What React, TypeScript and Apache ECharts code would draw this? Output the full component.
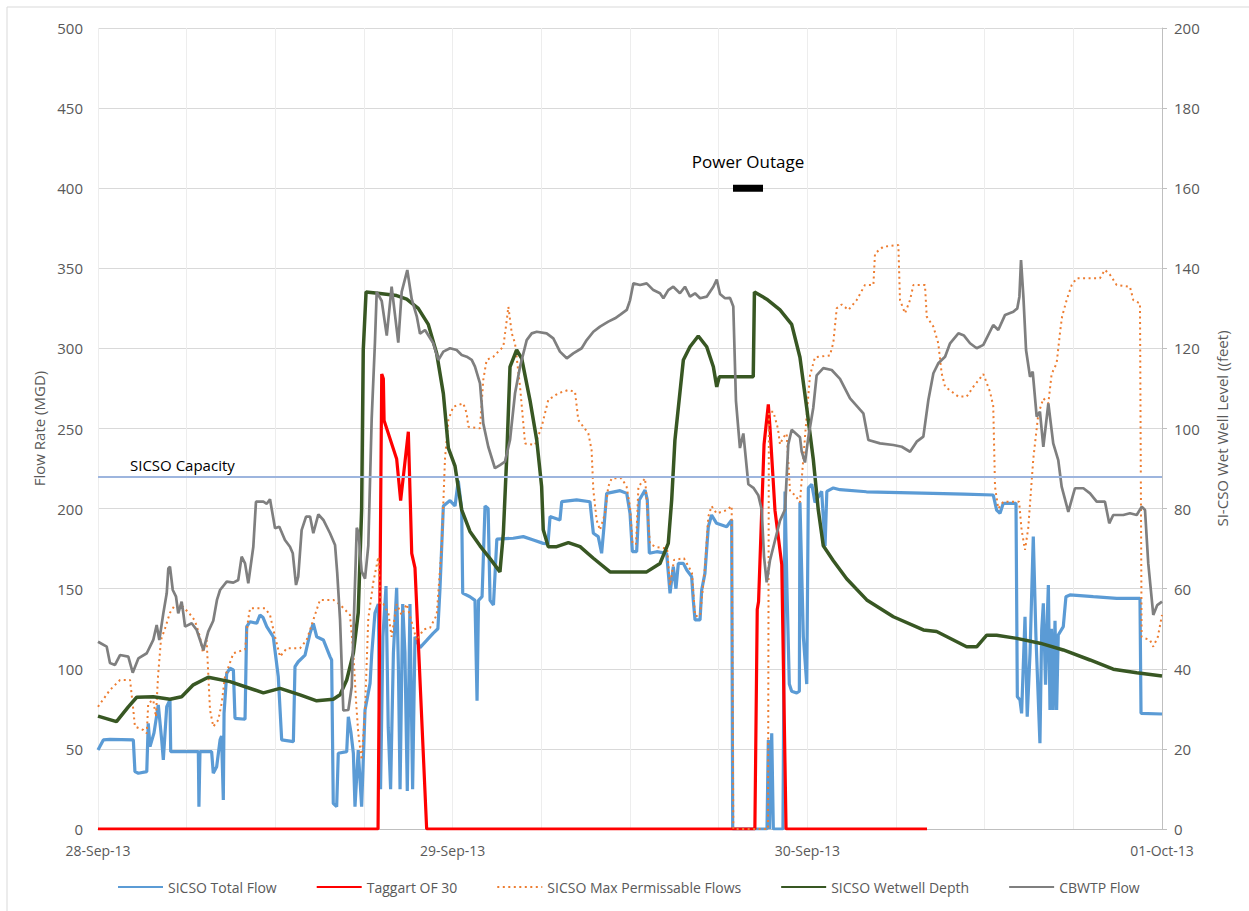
import React, { useEffect, useRef } from "react";
import * as echarts from "echarts";

// x values are hours after 28-Sep-13 00:00
const dayLabels = ["28-Sep-13", "29-Sep-13", "30-Sep-13", "01-Oct-13"];
const capacity = 220;
const outageStart = 42.97;
const outageEnd = 45.0;
const outageLevel = 400;

const blueH = [0, 0.36, 0.81, 2.39, 2.5, 2.73, 3.3, 3.4, 3.52, 3.79, 4.08, 4.31, 4.42, 4.65, 4.87, 4.92, 6.79, 6.83, 6.9, 7.69, 7.8, 8.03, 8.26, 8.36, 8.48, 8.53, 8.71, 8.93, 9.16, 9.27, 9.95, 10.06, 10.29, 10.74, 10.96, 11.17, 11.42, 11.86, 12.2, 12.43, 13.22, 13.33, 13.55, 14.01, 14.35, 14.57, 14.8, 15.25, 15.7, 15.81, 15.92, 16.15, 16.26, 16.83, 16.94, 17.12, 17.28, 17.39, 17.61, 17.84, 18.07, 18.41, 18.52, 18.74, 18.97, 19.12, 19.28, 19.49, 19.64, 19.8, 19.99, 20.21, 20.33, 20.44, 20.62, 20.77, 20.93, 21.11, 21.29, 21.45, 21.79, 22.24, 22.69, 23.0, 23.14, 23.37, 23.82, 24.16, 24.38, 24.61, 24.68, 25.17, 25.51, 25.65, 25.75, 25.99, 26.19, 26.4, 26.53, 26.76, 26.99, 28.1, 28.78, 29.46, 30.13, 30.45, 30.59, 31.26, 31.38, 32.39, 33.29, 33.52, 33.85, 34.08, 34.24, 34.42, 35.33, 35.78, 36.0, 36.16, 36.45, 36.63, 37.02, 37.17, 37.31, 37.81, 38.48, 38.71, 38.93, 39.11, 39.27, 39.61, 39.84, 40.17, 40.28, 40.4, 40.74, 40.85, 41.07, 41.3, 41.52, 41.86, 42.54, 42.88, 42.95, 45.27, 45.36, 45.44, 45.59, 45.7, 46.35, 46.49, 46.62, 46.78, 46.94, 47.28, 47.46, 47.5, 47.73, 47.96, 48.07, 48.3, 48.52, 48.97, 49.2, 49.32, 49.76, 50.21, 52.0, 54.27, 56.5, 58.6, 60.58, 60.81, 61.04, 61.26, 62.12, 62.21, 62.39, 62.5, 62.73, 62.88, 63.07, 63.29, 63.47, 63.74, 63.86, 63.97, 64.12, 64.24, 64.31, 64.42, 64.52, 64.64, 64.76, 64.87, 64.98, 65.32, 65.5, 65.77, 67.35, 68.93, 70.51, 70.58, 72];
const blueV = [49.3, 55.6, 56, 55.6, 35.8, 34.8, 35.8, 66, 51.4, 60, 77.4, 55.6, 43.1, 76.3, 80.5, 48.3, 48.3, 13.9, 48.3, 48.3, 34.8, 38.9, 55.6, 58, 18.1, 72.2, 97.2, 100.3, 99.3, 69.1, 68.5, 126.3, 129.4, 128.4, 133.6, 132, 126.3, 120, 95, 55.6, 54.5, 101.3, 104.4, 108.6, 122.2, 128.4, 120, 118, 107.6, 105.5, 16, 13.9, 47.3, 48.3, 70.1, 60, 47.3, 13.9, 49.3, 13.9, 74.3, 90.9, 108.7, 134.8, 140.4, 24.8, 120, 151.7, 63.4, 24.8, 110, 150.6, 100, 24.8, 140.4, 110, 23.7, 140.4, 24.8, 120, 113.2, 117.7, 122.3, 125, 149.5, 201.6, 205, 201.6, 217.5, 199.4, 147.2, 145, 142.7, 80, 142.7, 145, 201.6, 200, 142.7, 139.8, 181, 181.5, 182.5, 180.4, 178.3, 178, 195, 192.9, 204.3, 205.4, 204.3, 184.6, 182.5, 172.1, 188.7, 209.5, 211.2, 209.5, 197.1, 173.1, 173.1, 205.4, 211.6, 205.4, 172.1, 173.1, 172.1, 147.1, 163.7, 150, 165.8, 165.8, 161.7, 157.5, 143, 130.5, 130.5, 149.2, 159.6, 188.7, 196, 190.8, 188.7, 192.9, 0, 0, 55.6, 0, 59.7, 0, 0, 210.7, 150, 90.5, 86, 84.9, 86, 203.9, 120.1, 90.5, 212.9, 215.2, 203.9, 210.7, 176.7, 210.7, 212.9, 211.8, 210.5, 210, 209.5, 209, 208.5, 199.1, 197.1, 203.3, 203.3, 82.6, 80.5, 72.2, 132.5, 70.1, 110, 182.5, 120, 53.5, 124.2, 140.9, 90, 132.5, 152.3, 74.3, 125, 74.3, 130, 74.3, 121.1, 126.3, 145, 146.1, 145, 144, 144, 72.2, 71.8];

const redH = [0, 18.95, 19.2, 19.31, 19.36, 20.21, 20.48, 21.0, 21.23, 21.45, 22.24, 44.45, 44.61, 44.7, 45.07, 45.36, 45.47, 45.81, 46.27, 46.56, 56.1];
const redV = [0, 0, 284, 281, 255, 231, 205, 248, 172, 163, 0, 0, 137, 142, 240, 265, 251, 199, 165, 0, 0];

const orangeH = [0, 0.81, 1.49, 2.17, 2.39, 2.5, 3.07, 3.3, 3.4, 3.74, 3.92, 4.06, 4.26, 4.53, 4.87, 5.21, 5.75, 6.23, 6.56, 6.9, 7.1, 7.35, 7.58, 7.8, 8.14, 8.37, 8.59, 9.16, 9.95, 10.15, 10.29, 11.3, 11.64, 11.98, 12.32, 12.77, 13.67, 14.12, 14.57, 15.02, 15.92, 16.26, 16.6, 17.05, 17.28, 17.46, 17.61, 17.84, 18.07, 18.29, 18.63, 18.97, 19.12, 19.31, 19.65, 19.87, 20.21, 20.55, 20.89, 21.23, 21.57, 22.02, 22.47, 22.92, 23.26, 23.48, 23.71, 24.04, 24.72, 24.95, 25.06, 25.85, 26.07, 26.3, 26.75, 27.09, 27.43, 27.66, 27.77, 28.0, 28.22, 28.56, 28.9, 29.57, 30.02, 30.47, 31.15, 31.82, 32.28, 32.5, 32.84, 33.18, 33.4, 33.52, 33.74, 33.97, 34.31, 34.53, 34.76, 35.43, 35.77, 36.0, 36.17, 36.41, 36.57, 37.02, 37.13, 37.35, 37.77, 38.51, 38.71, 38.98, 39.65, 40.19, 40.4, 40.74, 41.07, 41.3, 41.52, 41.86, 42.54, 42.88, 42.99, 44.34, 45.34, 45.4, 45.7, 46.01, 46.15, 46.38, 46.6, 46.83, 47.17, 47.5, 47.84, 48.18, 48.52, 49.53, 49.76, 49.99, 50.33, 50.78, 51.34, 51.9, 52.47, 52.58, 53.14, 54.16, 54.27, 54.61, 54.95, 55.18, 55.96, 56.08, 56.53, 56.86, 57.09, 57.32, 58.22, 58.78, 59.24, 59.91, 60.36, 60.58, 60.7, 60.92, 61.26, 62.33, 62.5, 62.73, 62.95, 63.29, 63.63, 63.97, 64.31, 64.53, 64.87, 65.1, 65.24, 65.55, 65.89, 66.23, 67.8, 68.14, 68.48, 68.93, 69.83, 70.06, 70.51, 70.62, 70.85, 71.18, 71.41, 71.72, 72];
const orangeV = [76.3, 86.8, 93, 93, 74.3, 63.9, 61.8, 59.7, 78.5, 80.5, 70, 95, 118, 125, 135, 139.8, 138.8, 134, 130, 120, 110, 118, 74.3, 63.9, 68, 78.5, 95, 109.7, 112.1, 130, 137.8, 137.8, 133.6, 120, 107.6, 112.8, 112.8, 118, 130.5, 143, 143, 140.9, 138, 133.6, 110, 80, 60, 43, 74.7, 131.3, 154, 169.9, 140, 140.4, 134.8, 120, 140.4, 133.6, 140.4, 129.1, 117.7, 124.5, 125.6, 133.6, 176.7, 231, 255.3, 263.6, 265.7, 259.5, 251.1, 250.1, 280.3, 292.8, 294.8, 298, 301.1, 317.7, 326, 309.4, 303.2, 276.1, 240.7, 239.7, 251.1, 267.8, 272, 274, 273, 255.3, 251.1, 247, 236.6, 211.6, 192.9, 186.6, 197.1, 213.7, 218.9, 218.9, 213.7, 201.2, 178, 178, 213.7, 218.9, 205.4, 178, 176, 175, 152, 168, 169, 160, 133, 133, 163, 195, 201.6, 197, 199, 201.6, 0, 0, 0, 260.5, 260.5, 250, 240.1, 244.6, 246.9, 210.7, 208.4, 203.9, 244.6, 283.2, 294.5, 295.6, 303.6, 325.1, 327.4, 324, 330.2, 339.6, 339.6, 359.3, 363.5, 364.5, 330.2, 321.9, 330.2, 339.6, 339.6, 319.8, 313.6, 303.2, 284.5, 276.1, 269.9, 269.9, 276.1, 284, 273, 264, 213.7, 200, 204.3, 204.3, 186.6, 174.2, 188, 231, 259, 268.8, 265.7, 284, 290.7, 310, 320, 330.2, 339.6, 343.8, 343.8, 349, 346, 339.6, 338.5, 330.2, 328.1, 120, 119, 118, 113.8, 120, 133.6];

const greenH = [0, 1.25, 2.05, 2.62, 3.74, 4.87, 5.66, 6.45, 7.46, 8.93, 10.06, 11.19, 12.32, 13.67, 14.8, 15.92, 16.38, 16.83, 17.28, 17.61, 17.84, 17.95, 18.14, 19.08, 20.21, 20.89, 21.67, 22.35, 22.92, 23.37, 23.71, 24.16, 24.61, 25.17, 25.85, 26.53, 27.2, 27.43, 27.66, 27.88, 28.33, 28.67, 29.23, 29.69, 30.02, 30.13, 30.47, 31.04, 31.83, 32.62, 33.52, 34.65, 37.13, 38.03, 38.59, 38.82, 39.04, 39.61, 40.06, 40.62, 41.19, 41.64, 41.87, 42.04, 44.34, 44.42, 45.25, 46.15, 46.94, 47.5, 47.96, 48.4, 48.74, 49.08, 49.76, 50.66, 52.02, 53.82, 55.85, 56.75, 58.78, 59.46, 60.14, 60.81, 62.17, 63.74, 65.32, 67.13, 68.7, 70.29, 72];
const greenV = [28.2, 26.8, 30.5, 32.9, 33.0, 32.4, 33.0, 36.0, 37.9, 36.8, 35.4, 34.0, 35.1, 33.5, 32.0, 32.4, 33.5, 37.2, 43.9, 54, 79.7, 119.6, 134.1, 133.7, 133.2, 132.3, 130, 126, 118.7, 108.7, 95.1, 90.6, 79.7, 74.3, 70.7, 67.5, 64.2, 73.9, 93, 115.4, 119.6, 117.5, 107.1, 97.1, 85.5, 74.7, 70.5, 70.5, 71.5, 70.5, 67.6, 64.2, 64.2, 66.3, 71.3, 82.1, 97.1, 117.1, 120.4, 123.1, 120.4, 115.4, 110.4, 112.9, 112.9, 134.1, 132.3, 129.6, 126, 117.8, 105.1, 92.4, 79.7, 70.7, 67, 62.5, 57.2, 53, 49.7, 49.3, 45.5, 45.5, 48.4, 48.4, 47.6, 46.4, 44.7, 42.2, 39.9, 39, 38.2];

const grayH = [0, 0.59, 0.81, 1.15, 1.49, 2.05, 2.35, 2.73, 3.3, 3.74, 3.97, 4.15, 4.42, 4.65, 4.76, 4.87, 5.06, 5.28, 5.43, 5.66, 5.79, 5.89, 6.34, 6.68, 7.13, 7.46, 7.8, 8.05, 8.26, 8.71, 9.16, 9.49, 9.72, 9.95, 10.17, 10.51, 10.69, 11.19, 11.42, 11.64, 11.98, 12.27, 12.65, 12.99, 13.18, 13.4, 13.55, 13.78, 14.08, 14.35, 14.57, 14.91, 15.25, 15.7, 16.04, 16.19, 16.38, 16.6, 16.94, 17.17, 17.51, 17.63, 17.84, 18.07, 18.29, 18.52, 18.74, 18.86, 19.2, 19.54, 19.87, 20.32, 20.55, 20.93, 21.23, 21.57, 21.79, 22.13, 22.69, 23.03, 23.37, 23.82, 24.27, 24.61, 24.95, 25.29, 25.51, 25.85, 26.07, 26.41, 26.86, 27.2, 27.54, 27.88, 28.22, 28.56, 29.01, 29.35, 29.69, 30.36, 30.81, 31.26, 31.72, 32.16, 32.73, 33.07, 33.52, 33.97, 34.53, 34.99, 35.32, 35.78, 36.0, 36.23, 36.68, 37.13, 37.58, 38.03, 38.26, 38.59, 38.93, 39.38, 39.72, 40.06, 40.4, 40.74, 41.19, 41.64, 41.87, 42.09, 42.43, 42.77, 42.99, 43.17, 43.44, 43.67, 44.01, 44.35, 44.68, 44.91, 45.07, 45.25, 45.47, 46.15, 46.49, 46.71, 46.94, 47.5, 47.62, 47.84, 48.07, 48.4, 48.63, 49.08, 49.65, 50.21, 50.89, 51.79, 52.13, 52.92, 53.82, 54.39, 54.95, 55.4, 55.85, 56.19, 56.53, 56.86, 57.32, 57.66, 58.22, 58.6, 59.01, 59.46, 59.91, 60.58, 60.92, 61.38, 61.94, 62.21, 62.35, 62.46, 62.62, 62.8, 63.07, 63.25, 63.52, 63.74, 63.97, 64.31, 64.64, 64.98, 65.21, 65.66, 66.11, 66.68, 67.13, 67.58, 68.14, 68.43, 68.7, 69.38, 69.83, 70.29, 70.63, 70.85, 71.07, 71.41, 71.68, 72];
const grayV = [116.9, 113.8, 103.6, 102.4, 108.6, 107.6, 97.6, 106.5, 109.7, 118, 127.3, 118, 134.6, 147.1, 162.7, 163.7, 149.2, 145, 134.6, 141.9, 133.6, 126.3, 128.4, 124.2, 111.7, 123.2, 130, 143, 149.2, 154.4, 153.8, 155.4, 170, 165.8, 153.4, 176.2, 204.3, 204.3, 203, 205.8, 187.7, 188.7, 180.4, 176.2, 172.1, 152.3, 157.5, 186.6, 195, 195, 184.6, 196.4, 192.9, 184.6, 177.3, 159.6, 130.5, 74, 74.3, 88.8, 188, 185, 160.8, 156.3, 176.7, 256, 303.6, 335.3, 329.6, 308, 338.6, 303.6, 335.3, 348.9, 330.7, 320, 309.2, 311.5, 303.2, 292.8, 298, 300.1, 299, 295.9, 294.8, 292.8, 288.6, 278.2, 253.2, 238.6, 225.2, 227.2, 229.3, 242.8, 272, 288.6, 305.2, 309.4, 310.4, 309.4, 306.3, 298, 293.8, 296.9, 300.1, 305.2, 310.4, 313.6, 316.7, 318.8, 320.9, 324, 330, 340.6, 339.6, 340.6, 336.4, 334.4, 331.3, 336.4, 338.5, 334.4, 338.5, 332.3, 334.4, 331.3, 332.3, 338.5, 343, 334, 331.3, 331.5, 326.2, 267.3, 237.8, 246.9, 215.2, 213, 208.4, 199.4, 169.9, 154, 167.6, 192.5, 199.4, 240.1, 249.2, 244.6, 235.6, 228.8, 244.6, 262.8, 283.2, 287.7, 286.5, 281, 268.8, 259.5, 242.8, 240.7, 239.7, 238.6, 235.5, 241.8, 244.9, 267.8, 284.5, 290.7, 294.8, 303.2, 309.4, 308, 303.2, 300.1, 302.2, 314.6, 311.5, 320.9, 322.9, 325, 332.3, 355.2, 332.3, 299, 282.3, 285.5, 257.4, 260.5, 238.6, 265.7, 240.7, 230.3, 213.7, 198, 212.7, 212.7, 209.5, 204.3, 204.3, 190.8, 196, 196, 197.1, 196, 201.2, 199.1, 165.8, 133.6, 139.8, 141.9];

const zip = (hs: number[], vs: number[]) => hs.map((h, i) => [h, vs[i]]);

const FONT = "'Open Sans', Lato, sans-serif";
const TXT = "#595959";

export default function App() {
  const ref = useRef<HTMLDivElement>(null);
  useEffect(() => {
    document.body.style.margin = "0";
    if (!ref.current) return;
    const chart = echarts.init(ref.current, undefined, { renderer: "svg" });
    chart.setOption({
      animation: false,
      backgroundColor: "#ffffff",
      textStyle: { fontFamily: FONT },
      grid: { left: 98, right: 87, top: 28, bottom: 82, containLabel: false },
      graphic: [
        {
          type: "rect",
          silent: true,
          z: -10,
          shape: { x: 7, y: 7, width: 1260, height: 920 },
          style: { fill: "none", stroke: "#d9d9d9", lineWidth: 1 },
        },
      ],
      legend: {
        data: ["SICSO Total Flow", "Taggart OF 30", "SICSO Max Permissable Flows", "SICSO Wetwell Depth", "CBWTP Flow"],
        left: 117,
        top: 880,
        padding: 0,
        itemWidth: 45,
        itemHeight: 10,
        itemGap: 39,
        itemStyle: { color: "rgba(0,0,0,0)", borderWidth: 0, opacity: 0 },
        textStyle: { fontSize: 14, color: TXT, fontFamily: FONT },
      },
      xAxis: {
        type: "value",
        min: 0,
        max: 72,
        interval: 6,
        axisLine: { show: true, lineStyle: { color: "#bfbfbf", width: 1 } },
        axisTick: { show: false },
        splitLine: { show: true, lineStyle: { color: "#ededed", width: 1 } },
        axisLabel: {
          color: TXT,
          fontSize: 14,
          margin: 14,
          fontFamily: FONT,
          formatter: (v: number) => (v % 24 === 0 ? dayLabels[v / 24] : ""),
        },
      },
      yAxis: [
        {
          type: "value",
          min: 0,
          max: 500,
          interval: 50,
          name: "Flow Rate (MGD)",
          nameLocation: "middle",
          nameRotate: 90,
          nameGap: 42,
          nameTextStyle: { fontSize: 15, color: TXT, fontFamily: FONT },
          axisLine: { show: false },
          axisTick: { show: false },
          splitLine: { show: true, lineStyle: { color: "#d9d9d9", width: 1 } },
          axisLabel: { color: TXT, fontSize: 15, margin: 15, fontFamily: FONT },
        },
        {
          type: "value",
          min: 0,
          max: 200,
          interval: 20,
          position: "right",
          name: "SI-CSO Wet Well Level ((feet)",
          nameLocation: "middle",
          nameRotate: 90,
          nameGap: 52,
          nameTextStyle: { fontSize: 15, color: TXT, fontFamily: FONT },
          axisLine: { show: true, lineStyle: { color: "#bfbfbf", width: 1 } },
          axisTick: { show: true, inside: false, length: 5, lineStyle: { color: "#bfbfbf" } },
          splitLine: { show: false },
          axisLabel: { color: TXT, fontSize: 15, margin: 12, fontFamily: FONT },
        },
      ],
      series: [
        {
          name: "SICSO Total Flow",
          type: "line",
          yAxisIndex: 0,
          symbol: "none",
          data: zip(blueH, blueV),
          lineStyle: { color: "#5B9BD5", width: 3.2 },
          itemStyle: { color: "#5B9BD5" },
          markLine: {
            silent: true,
            symbol: "none",
            data: [{ yAxis: capacity }],
            lineStyle: { color: "#9DB5DE", width: 2, type: "solid" },
            label: {
              show: true,
              formatter: "SICSO Capacity",
              position: "insideStartTop",
              distance: [32, 4],
              color: "#000000",
              fontSize: 15,
              fontFamily: FONT,
            },
          },
        },
        {
          name: "Taggart OF 30",
          type: "line",
          yAxisIndex: 0,
          symbol: "none",
          data: zip(redH, redV),
          lineStyle: { color: "#FF0000", width: 3.2 },
          itemStyle: { color: "#FF0000" },
        },
        {
          name: "SICSO Max Permissable Flows",
          type: "line",
          yAxisIndex: 0,
          symbol: "none",
          data: zip(orangeH, orangeV),
          lineStyle: { color: "#ED7D31", width: 2, type: [2, 3.5] },
          itemStyle: { color: "#ED7D31" },
        },
        {
          name: "SICSO Wetwell Depth",
          type: "line",
          yAxisIndex: 1,
          symbol: "none",
          data: zip(greenH, greenV),
          lineStyle: { color: "#385723", width: 3.5 },
          itemStyle: { color: "#385723" },
        },
        {
          name: "CBWTP Flow",
          type: "line",
          yAxisIndex: 0,
          symbol: "none",
          data: zip(grayH, grayV),
          lineStyle: { color: "#7F7F7F", width: 2.7 },
          itemStyle: { color: "#7F7F7F" },
        },
        {
          name: "Power Outage",
          type: "line",
          yAxisIndex: 0,
          symbol: "none",
          data: [
            [outageStart, outageLevel],
            [outageEnd, outageLevel],
          ],
          lineStyle: { color: "#000000", width: 7, cap: "butt" },
          itemStyle: { color: "#000000" },
          markPoint: {
            silent: true,
            data: [
              {
                coord: [(outageStart + outageEnd) / 2, outageLevel],
                symbol: "circle",
                symbolSize: 1,
                itemStyle: { color: "rgba(0,0,0,0)" },
                label: {
                  show: true,
                  formatter: "Power Outage",
                  position: "top",
                  distance: 18,
                  color: "#000000",
                  fontSize: 17,
                  fontFamily: FONT,
                },
              },
            ],
          },
        },
      ],
    });
    return () => chart.dispose();
  }, []);
  return <div ref={ref} style={{ width: 1249, height: 911 }} />;
}
